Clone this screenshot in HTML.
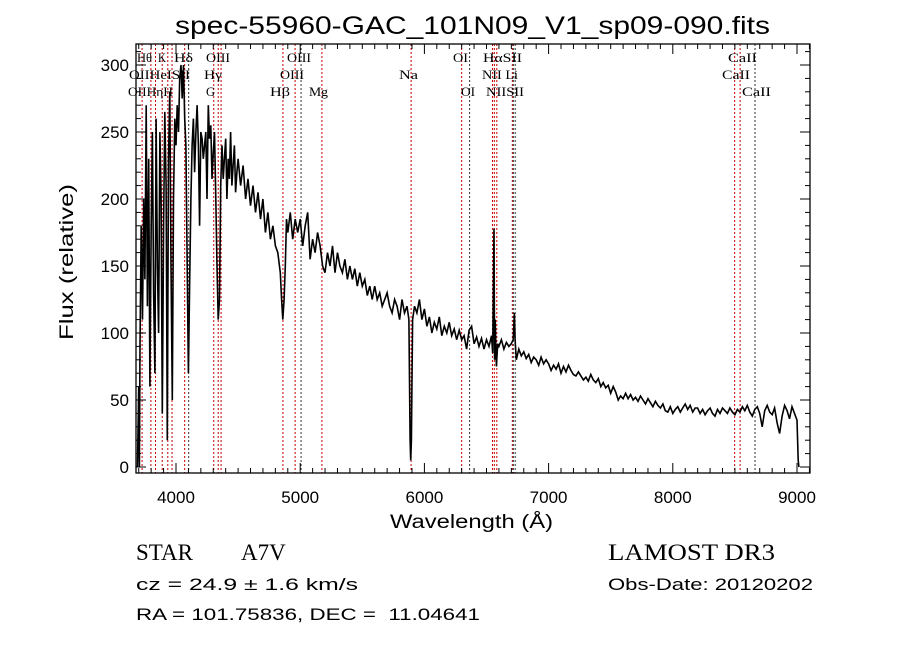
<!DOCTYPE html>
<html><head><meta charset="utf-8"><style>
html,body{margin:0;padding:0;background:#fff;}
svg{display:block;}
.m{font-family:"Liberation Sans",sans-serif;fill:#000;white-space:pre;}
.s{font-family:"Liberation Serif",serif;fill:#000;white-space:pre;}
</style></head><body>
<svg id="chart" width="900" height="649" viewBox="0 0 900 649" xmlns="http://www.w3.org/2000/svg" xml:space="preserve">
<rect width="900" height="649" fill="#fff"/>
<text class="m" x="175" y="34" font-size="25" textLength="595" lengthAdjust="spacingAndGlyphs">spec-55960-GAC_101N09_V1_sp09-090.fits</text>
<defs><clipPath id="plotclip"><rect x="136" y="44" width="674" height="429"/></clipPath></defs>
<g id="lines"></g>
<g id="labels">
<text class="s" x="137" y="62" font-size="13" textLength="15" lengthAdjust="spacingAndGlyphs">Hθ</text>
<text class="s" x="158" y="62" font-size="13" textLength="8" lengthAdjust="spacingAndGlyphs">K</text>
<text class="s" x="174" y="62" font-size="13" textLength="19" lengthAdjust="spacingAndGlyphs">Hδ</text>
<text class="s" x="206" y="62" font-size="13" textLength="24" lengthAdjust="spacingAndGlyphs">OIII</text>
<text class="s" x="287" y="62" font-size="13" textLength="24" lengthAdjust="spacingAndGlyphs">OIII</text>
<text class="s" x="453" y="62" font-size="13" textLength="15" lengthAdjust="spacingAndGlyphs">OI</text>
<text class="s" x="483" y="62" font-size="13" textLength="39" lengthAdjust="spacingAndGlyphs">HαSII</text>
<text class="s" x="728" y="62" font-size="13" textLength="29" lengthAdjust="spacingAndGlyphs">CaII</text>
<text class="s" x="129" y="79" font-size="13" textLength="61" lengthAdjust="spacingAndGlyphs">OIIHeISII</text>
<text class="s" x="204" y="79" font-size="13" textLength="18" lengthAdjust="spacingAndGlyphs">Hγ</text>
<text class="s" x="280" y="79" font-size="13" textLength="24" lengthAdjust="spacingAndGlyphs">OIII</text>
<text class="s" x="399" y="79" font-size="13" textLength="19" lengthAdjust="spacingAndGlyphs">Na</text>
<text class="s" x="482" y="79" font-size="13" textLength="36" lengthAdjust="spacingAndGlyphs">NII Li</text>
<text class="s" x="722" y="79" font-size="13" textLength="28" lengthAdjust="spacingAndGlyphs">CaII</text>
<text class="s" x="128" y="96" font-size="13" textLength="45" lengthAdjust="spacingAndGlyphs">OIIHηH</text>
<text class="s" x="206" y="96" font-size="13" textLength="9" lengthAdjust="spacingAndGlyphs">G</text>
<text class="s" x="270" y="96" font-size="13" textLength="20" lengthAdjust="spacingAndGlyphs">Hβ</text>
<text class="s" x="309" y="96" font-size="13" textLength="19" lengthAdjust="spacingAndGlyphs">Mg</text>
<text class="s" x="461" y="96" font-size="13" textLength="14" lengthAdjust="spacingAndGlyphs">OI</text>
<text class="s" x="486" y="96" font-size="13" textLength="38" lengthAdjust="spacingAndGlyphs">NIISII</text>
<text class="s" x="742" y="96" font-size="13" textLength="29" lengthAdjust="spacingAndGlyphs">CaII</text>
</g>
<g clip-path="url(#plotclip)"><polyline id="spec" fill="none" stroke="#000" stroke-width="1.6" stroke-linejoin="miter"/></g>
<rect x="136" y="44" width="674" height="429" fill="none" stroke="#000" stroke-width="1.3"/>
<g id="ticks" stroke="#000" stroke-width="1"></g>
<g id="ticklabels"></g>
<text class="m" x="390" y="528" font-size="19" textLength="163" lengthAdjust="spacingAndGlyphs">Wavelength (Å)</text>
<text class="m" transform="translate(73,340) rotate(-90)" x="0" y="0" font-size="19" textLength="156" lengthAdjust="spacingAndGlyphs">Flux (relative)</text>
<text class="s" x="136" y="560" font-size="23">STAR</text>
<text class="s" x="241" y="560" font-size="23">A7V</text>
<text class="s" x="608" y="560" font-size="23" textLength="167" lengthAdjust="spacingAndGlyphs">LAMOST DR3</text>
<text class="m" x="136" y="590" font-size="17" textLength="222" lengthAdjust="spacingAndGlyphs">cz = 24.9 ± 1.6 km/s</text>
<text class="m" x="608" y="590" font-size="17" textLength="205" lengthAdjust="spacingAndGlyphs">Obs-Date: 20120202</text>
<text class="m" x="136" y="620" font-size="17" textLength="344" lengthAdjust="spacingAndGlyphs">RA = 101.75836, DEC =  11.04641</text>
</svg>
<script>
const wave = [3690,3700,3705,3710,3720,3730,3740,3750,3760,3770,3780,3790,3800,3810,3820,3830,3840,3850,3860,3870,3880,3890,3900,3910,3920,3930,3940,3950,3960,3970,3980,3990,4000,4010,4020,4030,4040,4050,4060,4070,4080,4090,4100,4110,4120,4130,4140,4150,4160,4170,4180,4190,4200,4210,4220,4240,4250,4260,4270,4280,4290,4300,4310,4320,4330,4340,4350,4360,4370,4380,4390,4400,4410,4420,4430,4440,4450,4460,4470,4480,4490,4500,4520,4540,4560,4580,4600,4620,4640,4660,4680,4700,4720,4740,4760,4780,4800,4820,4840,4850,4860,4870,4880,4890,4900,4920,4940,4960,4980,5000,5020,5040,5060,5080,5100,5120,5140,5160,5180,5200,5220,5240,5260,5280,5300,5320,5340,5360,5380,5400,5420,5440,5460,5480,5500,5520,5540,5560,5580,5600,5620,5640,5660,5680,5700,5720,5740,5760,5780,5800,5820,5840,5860,5875,5885,5890,5895,5905,5920,5940,5960,5980,6000,6020,6040,6060,6080,6100,6120,6140,6160,6180,6200,6220,6240,6260,6280,6300,6320,6340,6360,6380,6400,6420,6440,6460,6480,6500,6520,6540,6550,6560,6565,6570,6580,6590,6600,6620,6640,6660,6680,6700,6715,6725,6730,6740,6760,6780,6800,6820,6840,6860,6880,6900,6920,6940,6960,6980,7000,7020,7040,7060,7080,7100,7120,7140,7160,7180,7200,7220,7240,7260,7280,7300,7320,7340,7360,7380,7400,7420,7440,7460,7480,7500,7520,7540,7560,7580,7600,7620,7640,7660,7680,7700,7720,7740,7760,7780,7800,7820,7840,7860,7880,7900,7920,7940,7960,7980,8000,8020,8040,8060,8080,8100,8120,8140,8160,8180,8200,8220,8240,8260,8280,8300,8320,8340,8360,8380,8400,8420,8440,8460,8480,8500,8520,8540,8560,8580,8600,8620,8640,8660,8680,8700,8720,8740,8760,8780,8800,8820,8840,8860,8880,8900,8920,8940,8960,8980,9000,9010,9015];
const flux = [0,60,0,90,180,110,200,140,270,120,230,60,180,250,130,70,260,150,100,250,200,40,180,265,210,20,230,280,150,50,200,260,240,270,250,290,300,275,300,260,240,150,70,140,200,240,260,220,250,270,240,180,250,245,230,250,200,270,245,255,215,235,250,205,150,110,125,210,240,215,230,245,200,230,215,250,210,225,240,205,220,230,210,225,200,215,195,210,190,205,185,200,175,190,170,180,165,160,145,125,110,125,150,185,175,190,170,185,175,185,165,180,190,155,170,160,175,165,150,145,160,150,165,145,160,150,145,155,140,150,140,148,135,145,135,140,128,135,125,135,125,130,120,125,130,120,115,125,120,110,125,115,120,110,20,5,20,110,120,115,125,110,118,105,112,100,108,103,112,98,105,100,108,98,103,95,102,95,98,88,102,105,92,97,90,96,88,95,90,98,85,178,80,110,75,92,90,95,88,93,90,92,95,115,95,80,88,83,86,81,84,78,82,80,76,82,77,80,77,72,76,73,77,70,75,71,76,72,69,68,71,68,65,67,64,69,65,63,66,60,63,59,61,55,60,56,50,53,51,55,51,54,50,52,49,53,50,47,51,48,45,49,46,44,47,42,41,45,40,43,45,41,44,47,43,46,41,44,44,40,43,39,42,44,40,38,43,40,44,42,40,44,41,39,43,41,45,42,46,41,38,43,45,40,30,42,46,41,39,44,33,25,38,46,42,36,45,40,35,5,0];
const xTicks = [4000,5000,6000,7000,8000,9000];
const yTicks = [0,50,100,150,200,250,300];
const lineWaves = [3727,3798,3835,3889,3934,3968,4070,4102,4304,4340,4363,4861,4959,5007,5175,5893,6300,6364,6548,6563,6583,6708,6716,6731,8498,8542,8662];
const lineDark = [0,0,0,0,0,0,0,1,0,0,0,0,0,1,0,0,0,1,0,0,0,0,1,1,0,0,1];

const X0=136,X1=810,Y0=44,Y1=473;
const xmin=4000-40/0.1242, xmax=4000+634/0.1242;
const ymin=-(473-467)/1.34, ymax=(467-44)/1.34;
function xs(w){return X0+(w-xmin)/(xmax-xmin)*(X1-X0);}
function ys(f){return Y1-(f-ymin)/(ymax-ymin)*(Y1-Y0);}
const NS="http://www.w3.org/2000/svg";

const gl=document.getElementById('lines');
lineWaves.forEach((w,i)=>{
  const l=document.createElementNS(NS,'line');
  const x=xs(w);
  l.setAttribute('x1',x);l.setAttribute('x2',x);l.setAttribute('y1',Y0);l.setAttribute('y2',Y1);
  l.setAttribute('stroke',lineDark[i]?'#333':'#c00000');l.setAttribute('stroke-width','1');l.setAttribute('stroke-dasharray','2,2');
  
  
  gl.appendChild(l);
});

const n=Math.min(wave.length,flux.length);
const pts=[];
for(let i=0;i<n;i++){pts.push(xs(wave[i]).toFixed(1)+','+ys(flux[i]).toFixed(1));}
document.getElementById('spec').setAttribute('points',pts.join(' '));

const gt=document.getElementById('ticks');
function tk(x1,y1,x2,y2){const l=document.createElementNS(NS,'line');l.setAttribute('x1',x1);l.setAttribute('y1',y1);l.setAttribute('x2',x2);l.setAttribute('y2',y2);
  
  
  gt.appendChild(l);}
for(let w=3700;w<=9100;w+=100){const x=xs(w);if(x<X0||x>X1)continue;const L=(w%1000===0)?10:5;tk(x,Y1,x,Y1-L);tk(x,Y0,x,Y0+L);}
for(let f=0;f<=310;f+=10){const y=ys(f);const L=(f%50===0)?10:5;tk(X0,y,X0+L,y);tk(X1,y,X1-L,y);}

const gx=document.getElementById('ticklabels');
xTicks.forEach(v=>{const t=document.createElementNS(NS,'text');t.setAttribute('x',xs(v));t.setAttribute('y',503);t.setAttribute('text-anchor','middle');t.setAttribute('class','m');t.setAttribute('font-size','17');t.textContent=v;
  
  
  gx.appendChild(t);});
yTicks.forEach(v=>{const t=document.createElementNS(NS,'text');t.setAttribute('x',129);t.setAttribute('y',ys(v)+6);t.setAttribute('text-anchor','end');t.setAttribute('class','m');t.setAttribute('font-size','17');t.textContent=v;
  
  
  gx.appendChild(t);});
</script>
</body></html>
